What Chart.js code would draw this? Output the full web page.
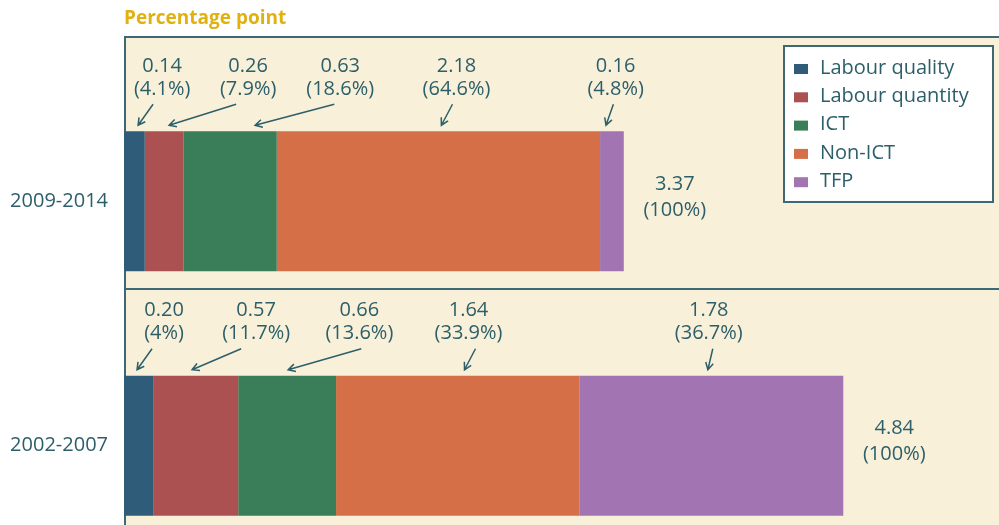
<!DOCTYPE html>
<html>
<head>
<meta charset="utf-8">
<title>Contributions to growth</title>
<script src="https://cdn.jsdelivr.net/npm/chart.js@4.4.0/dist/chart.umd.min.js"></script>
<style>
    html, body { margin: 0; padding: 0; background: #ffffff; overflow: hidden; }
    #chart { display: block; }
</style>
</head>
<body>
<canvas id="chart" width="999" height="570"></canvas>
<script>
const periods = ['2009-2014', '2002-2007'];
const components = ['Labour quality', 'Labour quantity', 'ICT', 'Non-ICT', 'TFP'];

const labourQuality = [0.14, 0.20];
const labourQuantity = [0.26, 0.57];
const ict = [0.63, 0.66];
const nonIct = [2.18, 1.64];
const tfp = [0.16, 1.78];
const totals = [3.37, 4.84];

// shares of the total, as printed on the chart
const shares2009 = ['4.1%', '7.9%', '18.6%', '64.6%', '4.8%'];
const shares2002 = ['4%', '11.7%', '13.6%', '33.9%', '36.7%'];

const COLORS = ['#2f5c78', '#ac5152', '#3a7d59', '#d46f47', '#a275b2'];
const TEXT = '#2c5f6a';
const LINE = '#3d6874';
const PANEL = '#f8f0d9';
const FONT = '"Open Sans", "DejaVu Sans", sans-serif';

// callout layout (x in axis units): text centre, arrow tail, arrow tip
const calloutText = [[0.257, 0.837, 1.458, 2.242, 3.315], [0.27, 0.891, 1.587, 2.323, 3.943]];
const calloutTail = [[0.196, 0.756, 1.418, 2.215, 3.30], [0.189, 0.79, 1.60, 2.37, 3.97]];
const calloutTip = [[0.095, 0.304, 0.884, 2.14, 3.25], [0.088, 0.459, 1.107, 2.296, 3.937]];

const series = [labourQuality, labourQuantity, ict, nonIct, tfp];
const shares = [shares2009, shares2002];

function arrow(ctx, x0, y0, x1, y1) {
    const a = Math.atan2(y1 - y0, x1 - x0);
    const len = 8;
    ctx.beginPath();
    ctx.moveTo(x0, y0);
    ctx.lineTo(x1, y1);
    ctx.moveTo(x1 - len * Math.cos(a - 0.5), y1 - len * Math.sin(a - 0.5));
    ctx.lineTo(x1, y1);
    ctx.lineTo(x1 - len * Math.cos(a + 0.5), y1 - len * Math.sin(a + 0.5));
    ctx.stroke();
}

const panelPlugin = {
    id: 'panel',
    beforeDatasetsDraw(chart) {
        const { ctx, chartArea } = chart;
        const top = chartArea.top - 43;
        const sep = chartArea.top + 210;
        ctx.save();
        ctx.fillStyle = PANEL;
        ctx.fillRect(chartArea.left, top, chartArea.right - chartArea.left, chart.height - top);
        ctx.strokeStyle = LINE;
        ctx.lineWidth = 2;
        ctx.beginPath();
        ctx.moveTo(chartArea.left + 1, chart.height);
        ctx.lineTo(chartArea.left + 1, top + 1);
        ctx.lineTo(chartArea.right, top + 1);
        ctx.moveTo(chartArea.left, sep);
        ctx.lineTo(chartArea.right, sep);
        ctx.stroke();

        // title
        ctx.fillStyle = '#e0b10f';
        ctx.font = 'bold 19px ' + FONT;
        ctx.textBaseline = 'middle';
        ctx.textAlign = 'left';
        ctx.fillText('Percentage point', chartArea.left, 19);
        ctx.restore();
    },
    afterDatasetsDraw(chart) {
        const { ctx, chartArea } = chart;
        const xs = chart.scales.x;
        ctx.save();
        ctx.fillStyle = TEXT;
        ctx.strokeStyle = TEXT;
        ctx.lineWidth = 1.5;
        ctx.font = '20px ' + FONT;
        ctx.textAlign = 'center';
        ctx.textBaseline = 'middle';

        periods.forEach((p, i) => {
            const bar = chart.getDatasetMeta(0).data[i];
            const barTop = bar.y - bar.height / 2;
            series.forEach((s, k) => {
                const cx = xs.getPixelForValue(calloutText[i][k]);
                ctx.fillText(s[i].toFixed(2), cx, barTop - 65);
                ctx.fillText('(' + shares[i][k] + ')', cx, barTop - 42);
                arrow(ctx, xs.getPixelForValue(calloutTail[i][k]), barTop - 27,
                    xs.getPixelForValue(calloutTip[i][k]), barTop - 6);
            });
            const end = chart.getDatasetMeta(series.length - 1).data[i];
            ctx.fillText(totals[i].toFixed(2), end.x + 51, bar.y - 17);
            ctx.fillText('(100%)', end.x + 51, bar.y + 9);
        });

        // legend box
        const lx = chartArea.right - 215;
        const ly = chartArea.top - 33;
        ctx.fillStyle = '#ffffff';
        ctx.fillRect(lx, ly, 209, 156);
        ctx.lineWidth = 2;
        ctx.strokeStyle = LINE;
        ctx.strokeRect(lx, ly, 209, 156);
        ctx.textAlign = 'left';
        ctx.font = '20px ' + FONT;
        components.forEach((name, k) => {
            const y = ly + 23 + k * 28.3;
            ctx.fillStyle = COLORS[k];
            ctx.fillRect(lx + 10, y - 5, 14, 10);
            ctx.fillStyle = TEXT;
            ctx.fillText(name, lx + 36, y - 1);
        });
        ctx.restore();
    }
};

new Chart(document.getElementById('chart'), {
    type: 'bar',
    data: {
        labels: periods,
        datasets: series.map((values, k) => ({
            label: components[k],
            data: values,
            backgroundColor: COLORS[k],
            borderWidth: 0,
            barPercentage: 0.5726,
            categoryPercentage: 1,
        })),
    },
    options: {
        indexAxis: 'y',
        responsive: false,
        animation: false,
        layout: { padding: { top: 79, bottom: 2, left: 0, right: 0 } },
        plugins: {
            legend: { display: false },
            tooltip: { enabled: false },
        },
        scales: {
            x: {
                stacked: true,
                min: 0,
                max: 5.9,
                display: false,
            },
            y: {
                stacked: true,
                grid: { display: false },
                border: { display: false },
                ticks: {
                    color: TEXT,
                    padding: 8,
                    font: { family: FONT, size: 20 },
                },
                afterFit(scale) {
                    scale.width = 124;
                    scale.paddingTop = 0;
                    scale.paddingBottom = 0;
                },
            },
        },
    },
    plugins: [panelPlugin],
});
</script>
</body>
</html>
